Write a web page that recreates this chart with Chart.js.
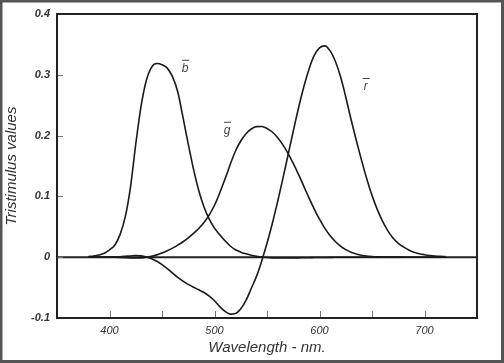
<!DOCTYPE html>
<html>
<head>
<meta charset="utf-8">
<script src="https://cdn.jsdelivr.net/npm/chart.js@4.4.1/dist/chart.umd.min.js"></script>
<style>
  html, body { margin: 0; padding: 0; background: #fff; }
  #wrap { width: 504px; height: 363px; position: relative; }
</style>
</head>
<body>
<div id="wrap"><canvas id="cmf"></canvas></div>
<script>
/************ DATA ************/
const wavelengths = [
  380, 385, 390, 395, 400, 405, 410, 415, 420, 425, 430, 435, 440, 445, 450,
  455, 460, 465, 470, 475, 480, 485, 490, 495, 500, 505, 510, 515, 520, 525,
  530, 535, 540, 545, 550, 555, 560, 565, 570, 575, 580, 585, 590, 595, 600,
  605, 610, 615, 620, 625, 630, 635, 640, 645, 650, 655, 660, 665, 670, 675,
  680, 685, 690, 695, 700, 705, 710, 715, 720,
];

const rBar = [
  0.0000, 0.0001, 0.0001, 0.0002, 0.0003, 0.0005, 0.0008, 0.0014, 0.0021, 0.0027,
  0.0022, 0.0004, -0.0026, -0.0067, -0.0121, -0.0187, -0.0261, -0.0332, -0.0393, -0.0447,
  -0.0494, -0.0536, -0.0581, -0.0641, -0.0717, -0.0812, -0.0890, -0.0936, -0.0926, -0.0847,
  -0.0710, -0.0514, -0.0315, -0.0061, 0.0228, 0.0551, 0.0906, 0.1284, 0.1677, 0.2072,
  0.2453, 0.2799, 0.3093, 0.3318, 0.3443, 0.3476, 0.3397, 0.3227, 0.2971, 0.2635,
  0.2268, 0.1923, 0.1597, 0.1291, 0.1017, 0.0786, 0.0593, 0.0437, 0.0315, 0.0229,
  0.0169, 0.0119, 0.0082, 0.0057, 0.0041, 0.0029, 0.0021, 0.0015, 0.0011,
];

const gBar = [
  0.0000, 0.0000, 0.0000, -0.0001, -0.0001, -0.0002, -0.0004, -0.0007, -0.0011, -0.0014,
  -0.0012, -0.0002, 0.0015, 0.0038, 0.0068, 0.0105, 0.0149, 0.0198, 0.0254, 0.0318,
  0.0391, 0.0471, 0.0569, 0.0695, 0.0854, 0.1059, 0.1286, 0.1526, 0.1747, 0.1911,
  0.2032, 0.2108, 0.2147, 0.2149, 0.2118, 0.2059, 0.1970, 0.1852, 0.1709, 0.1543,
  0.1361, 0.1169, 0.0975, 0.0791, 0.0625, 0.0478, 0.0356, 0.0258, 0.0183, 0.0125,
  0.0083, 0.0054, 0.0033, 0.0020, 0.0012, 0.0007, 0.0004, 0.0002, 0.0001, 0.0001,
  0.0000, 0.0000, 0.0000, 0.0000, 0.0000, 0.0000, 0.0000, 0.0000, 0.0000,
];

const bBar = [
  0.0012, 0.0019, 0.0036, 0.0065, 0.0121, 0.0197, 0.0371, 0.0664, 0.1154, 0.1858,
  0.2477, 0.2901, 0.3123, 0.3186, 0.3167, 0.3110, 0.2970, 0.2720, 0.2299, 0.1859,
  0.1449, 0.1097, 0.0826, 0.0625, 0.0478, 0.0369, 0.0270, 0.0184, 0.0122, 0.0083,
  0.0055, 0.0032, 0.0015, 0.0002, -0.0006, -0.0011, -0.0013, -0.0014, -0.0014, -0.0012,
  -0.0011, -0.0009, -0.0008, -0.0006, -0.0005, -0.0004, -0.0003, -0.0002, -0.0002, -0.0001,
  -0.0001, -0.0001, 0.0000, 0.0000, 0.0000, 0.0000, 0.0000, 0.0000, 0.0000, 0.0000,
  0.0000, 0.0000, 0.0000, 0.0000, 0.0000, 0.0000, 0.0000, 0.0000, 0.0000,
];

const xTicks = [400, 500, 600, 700];
const xMinorTicks = [400, 450, 500, 550, 600, 650, 700];
const yTicks = [-0.1, 0, 0.1, 0.2, 0.3, 0.4];

// curve names, placed at [wavelength, value]
const curveLabels = [
  { text: "b", x: 472, y: 0.305 },
  { text: "g", x: 512, y: 0.203 },
  { text: "r", x: 644, y: 0.275 },
];

/************ HELPERS ************/
function toPoints(values) {
  return wavelengths.map((w, i) => ({ x: w, y: values[i] }));
}

function curve(label, values) {
  return {
    label: label,
    data: toPoints(values),
    borderColor: "#1a1a1a",
    borderWidth: 1.6,
    pointRadius: 0,
    cubicInterpolationMode: "monotone",
    fill: false,
  };
}

const FONT = "'Liberation Sans', Arial, sans-serif";

/************ PLUGIN: frame, zero line, inward ticks, labels ************/
const decorations = {
  id: "decorations",
  beforeDatasetsDraw(chart) {
    const { ctx, chartArea: a, scales } = chart;
    const x = scales.x;
    const y = scales.y;
    ctx.save();
    // zero line
    const y0 = y.getPixelForValue(0);
    ctx.strokeStyle = "#222";
    ctx.lineWidth = 2;
    ctx.beginPath();
    ctx.moveTo(a.left, y0);
    ctx.lineTo(a.right, y0);
    ctx.stroke();
    // inward ticks
    ctx.strokeStyle = "#777";
    ctx.lineWidth = 1;
    xMinorTicks.forEach((w) => {
      const px = Math.round(x.getPixelForValue(w)) + 0.5;
      ctx.beginPath();
      ctx.moveTo(px, a.bottom);
      ctx.lineTo(px, a.bottom - 7);
      ctx.stroke();
    });
    yTicks.forEach((v) => {
      const py = Math.round(y.getPixelForValue(v)) + 0.5;
      ctx.beginPath();
      ctx.moveTo(a.left, py);
      ctx.lineTo(a.left + 6, py);
      ctx.stroke();
    });
    ctx.restore();
  },
  afterDraw(chart) {
    const { ctx, chartArea: a, scales, width, height } = chart;
    ctx.save();
    // plot frame
    ctx.strokeStyle = "#222";
    ctx.lineWidth = 2;
    ctx.strokeRect(a.left, a.top, a.right - a.left, a.bottom - a.top);
    // outer frame
    ctx.strokeStyle = "#555";
    ctx.lineWidth = 3;
    ctx.strokeRect(1, 1, width - 2.5, height - 2.5);
    // curve names with bars
    ctx.fillStyle = "#444";
    ctx.strokeStyle = "#444";
    ctx.lineWidth = 1;
    ctx.font = "italic 12px " + FONT;
    ctx.textAlign = "center";
    ctx.textBaseline = "alphabetic";
    curveLabels.forEach((l) => {
      const px = scales.x.getPixelForValue(l.x);
      const py = scales.y.getPixelForValue(l.y);
      ctx.fillText(l.text, px, py);
      ctx.beginPath();
      ctx.moveTo(px - 3, py - 11.5);
      ctx.lineTo(px + 4, py - 11.5);
      ctx.stroke();
    });
    ctx.restore();
  },
};

/************ CHART ************/
const ctx = document.getElementById("cmf").getContext("2d");
const chart = new Chart(ctx, {
  type: "line",
  data: {
    datasets: [curve("r", rBar), curve("g", gBar), curve("b", bBar)],
  },
  options: {
    responsive: true,
    maintainAspectRatio: false,
    animation: false,
    layout: { padding: { top: 14, right: 27, bottom: 0, left: 0 } },
    plugins: {
      legend: { display: false },
      tooltip: { enabled: false },
    },
    scales: {
      x: {
        type: "linear",
        min: 350,
        max: 750,
        grid: { display: false, drawTicks: false },
        border: { display: false },
        afterBuildTicks: (s) => {
          s.ticks = xTicks.map((v) => ({ value: v }));
        },
        afterFit: (s) => {
          s.height = 45;
        },
        ticks: {
          autoSkip: false,
          maxRotation: 0,
          padding: 6,
          color: "#333",
          font: { family: FONT, size: 11, style: "italic" },
        },
        title: {
          display: true,
          text: "Wavelength - nm.",
          color: "#333",
          padding: { top: 2, bottom: 6 },
          font: { family: FONT, size: 15, style: "italic" },
        },
      },
      y: {
        min: -0.1,
        max: 0.4,
        grid: { display: false, drawTicks: false },
        border: { display: false },
        afterBuildTicks: (s) => {
          s.ticks = yTicks.map((v) => ({ value: v }));
        },
        afterFit: (s) => {
          s.width = 57;
        },
        ticks: {
          padding: 7,
          color: "#333",
          font: { family: FONT, size: 11, style: "italic", weight: "bold" },
          callback: (v) => (Math.abs(v) < 1e-9 ? "0" : v.toFixed(1)),
        },
        title: {
          display: true,
          text: "Tristimulus values",
          color: "#333",
          padding: { top: 3, bottom: 0 },
          font: { family: FONT, size: 15, style: "italic" },
        },
      },
    },
  },
  plugins: [decorations],
});
</script>
</body>
</html>
